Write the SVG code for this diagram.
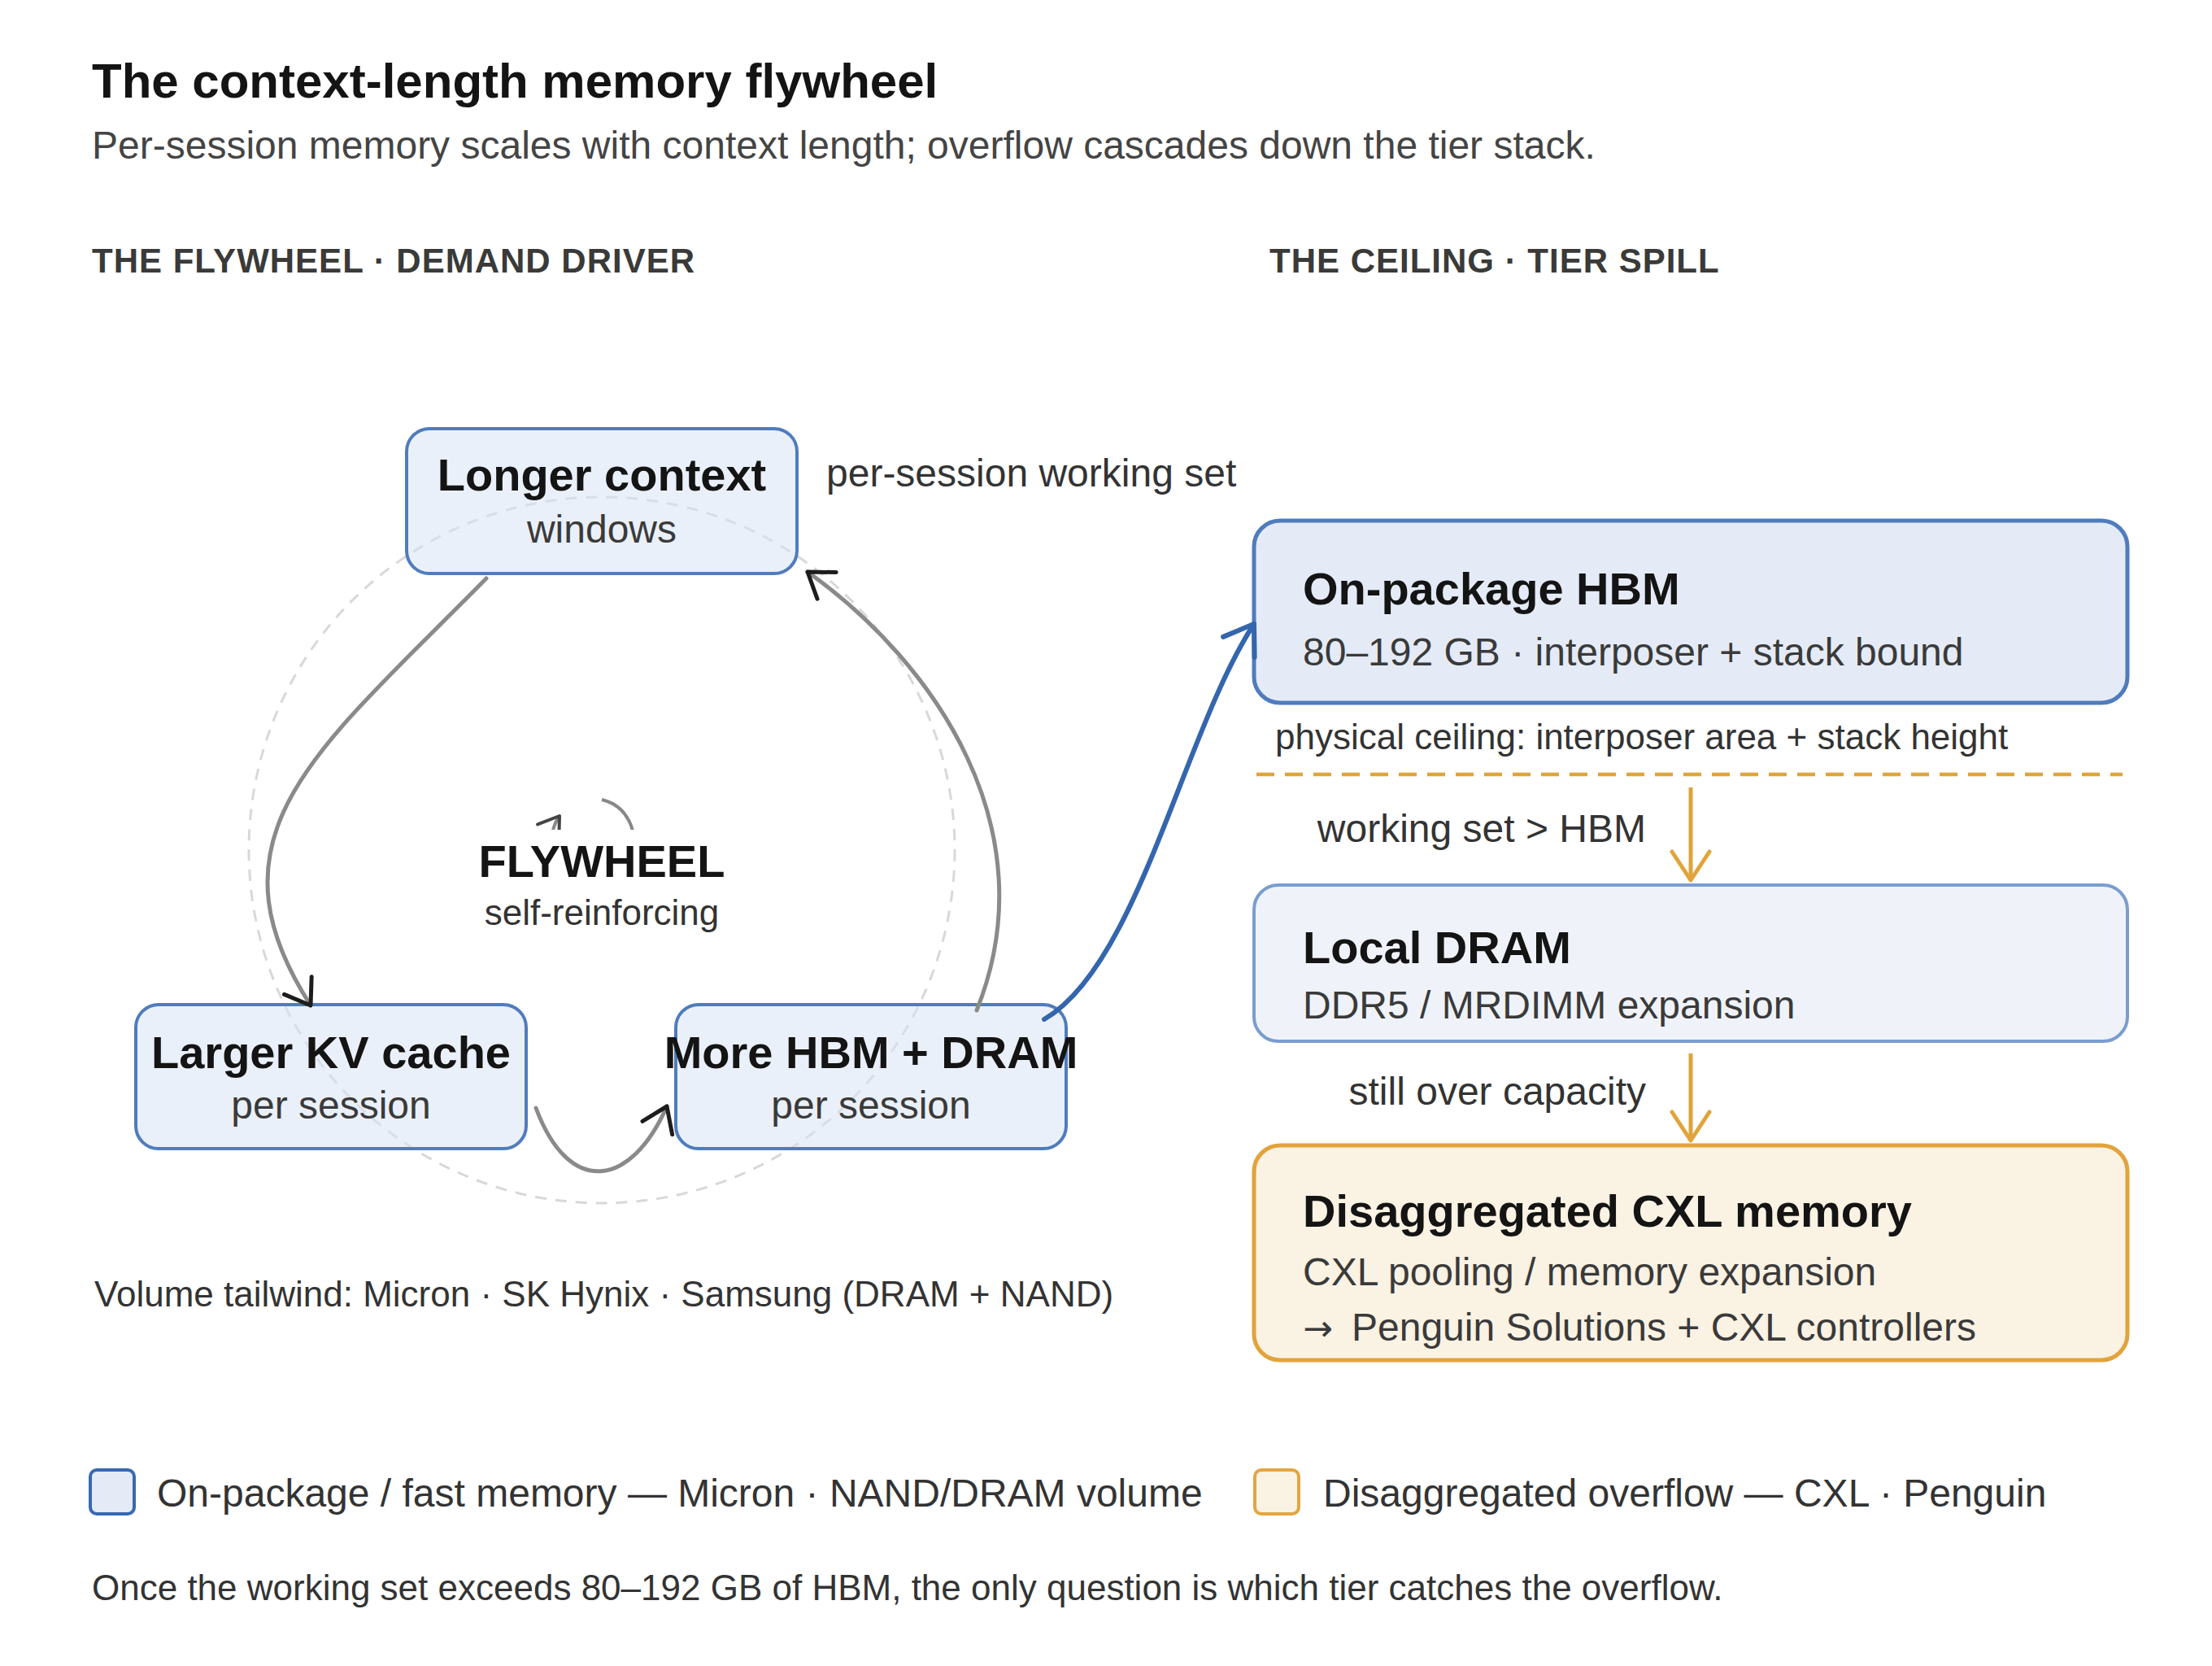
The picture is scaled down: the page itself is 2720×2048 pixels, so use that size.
<svg xmlns="http://www.w3.org/2000/svg" width="2720" height="2048" viewBox="0 0 2720 2048">
<style>
text{font-family:"Liberation Sans",Arial,Helvetica,sans-serif}
.t{font-size:60px;font-weight:bold;fill:#141414}
.sub{font-size:48px;fill:#444}
.hdr{font-size:42px;font-weight:bold;fill:#3a3a38;letter-spacing:1px}
.nt{font-size:56px;font-weight:bold;fill:#141414}
.ns{font-size:48px;fill:#3a3a3a}
.lbl{font-size:44px;fill:#333}
.lbl48{font-size:48px;fill:#333}
.fw{fill:#d9e4f4;fill-opacity:0.55;stroke:#4f7cbd;stroke-width:4}
.gray{fill:none;stroke:#8a8a8a;stroke-width:5;stroke-linecap:round}
.org{fill:none;stroke:#e0a43a;stroke-width:5}
</style>
<defs>
<marker id="ahk" viewBox="-34 -26 40 52" markerWidth="40" markerHeight="52" refX="0" refY="0" orient="auto" markerUnits="userSpaceOnUse"><path d="M -29 -20 L 0 0 L -29 20" fill="none" stroke="#1d1d1d" stroke-width="5" stroke-linecap="round" stroke-linejoin="round"/></marker>
<marker id="ahs" viewBox="-30 -22 36 44" markerWidth="36" markerHeight="44" refX="0" refY="0" orient="auto" markerUnits="userSpaceOnUse"><path d="M -24 -16 L 0 0 L -24 16" fill="none" stroke="#444" stroke-width="4" stroke-linecap="round" stroke-linejoin="round"/></marker>
<marker id="ahb" viewBox="-40 -30 46 60" markerWidth="46" markerHeight="60" refX="0" refY="0" orient="auto" markerUnits="userSpaceOnUse"><path d="M -34 -23 L 0 0 L -34 23" fill="none" stroke="#3466ae" stroke-width="6" stroke-linecap="round" stroke-linejoin="round"/></marker>
<marker id="aho" viewBox="-40 -30 46 60" markerWidth="46" markerHeight="60" refX="0" refY="0" orient="auto" markerUnits="userSpaceOnUse"><path d="M -35 -23 L 0 0 L -35 23" fill="none" stroke="#e0a43a" stroke-width="5" stroke-linecap="round" stroke-linejoin="round"/></marker>
</defs>
<rect width="2720" height="2048" fill="#fff"/>

<g id="header">
<text class="t" x="113" y="120">The context-length memory flywheel</text>
<text class="sub" x="113" y="195">Per-session memory scales with context length; overflow cascades down the tier stack.</text>
<text class="hdr" x="113" y="335">THE FLYWHEEL · DEMAND DRIVER</text>
<text class="hdr" x="1561" y="335">THE CEILING · TIER SPILL</text>
</g>

<circle id="orbit" cx="740" cy="1045" r="434" fill="none" stroke="#d8d8d8" stroke-width="3" stroke-dasharray="14 11"/>

<g id="hub">
<path d="M 740 983 A 50 50 0 1 1 688 1003" fill="none" stroke="#888" stroke-width="4" marker-end="url(#ahs)"/>
<rect x="590" y="1020" width="300" height="130" fill="#fff"/>
<text x="740" y="1078" text-anchor="middle" style="font-size:56px;font-weight:bold;fill:#141414">FLYWHEEL</text>
<text x="740" y="1137" text-anchor="middle" style="font-size:44px;fill:#333">self-reinforcing</text>
</g>

<g id="node-longer-context">
<rect class="fw" x="500" y="527" width="480" height="178" rx="28"/>
<text class="nt" x="740" y="603" text-anchor="middle">Longer context</text>
<text class="ns" x="740" y="667" text-anchor="middle">windows</text>
</g>
<text class="lbl48" x="1016" y="598">per-session working set</text>

<g id="node-kv-cache">
<rect class="fw" x="167" y="1235" width="480" height="177" rx="28"/>
<text class="nt" x="407" y="1313" text-anchor="middle">Larger KV cache</text>
<text class="ns" x="407" y="1375" text-anchor="middle">per session</text>
</g>

<g id="node-more-hbm">
<rect class="fw" x="831" y="1235" width="480" height="177" rx="28"/>
<text class="nt" x="1071" y="1313" text-anchor="middle">More HBM + DRAM</text>
<text class="ns" x="1071" y="1375" text-anchor="middle">per session</text>
</g>

<g id="node-hbm">
<rect x="1542" y="640" width="1074" height="224" rx="32" fill="#e4ebf6" stroke="#4f7cbd" stroke-width="5"/>
<text class="nt" x="1602" y="743">On-package HBM</text>
<text class="ns" x="1602" y="818">80–192 GB · interposer + stack bound</text>
</g>

<g id="ceiling">
<text class="lbl" x="1568" y="921">physical ceiling: interposer area + stack height</text>
<line x1="1545" y1="952" x2="2610" y2="952" stroke="#e0a43a" stroke-width="4.5" stroke-dasharray="22 13"/>
</g>

<g id="node-local-dram">
<rect x="1542" y="1088" width="1074" height="192" rx="30" fill="#eff3f9" stroke="#7a9dd0" stroke-width="4"/>
<text class="nt" x="1602" y="1184">Local DRAM</text>
<text class="ns" x="1602" y="1252">DDR5 / MRDIMM expansion</text>
</g>

<g id="node-cxl">
<rect x="1542" y="1408" width="1074" height="264" rx="32" fill="#faf2e3" stroke="#e2a33b" stroke-width="5"/>
<text class="nt" x="1602" y="1508">Disaggregated CXL memory</text>
<text class="ns" x="1602" y="1580">CXL pooling / memory expansion</text>
<text class="ns" x="1602" y="1648"><tspan style="font-family:'DejaVu Sans',sans-serif;font-size:44px">→</tspan><tspan x="1662">Penguin Solutions + CXL controllers</tspan></text>
</g>

<g id="connectors">
<path class="gray" d="M 598 711 C 388 924, 247 1026, 382 1236" marker-end="url(#ahk)"/>
<path class="gray" d="M 659 1362 C 700 1472, 776 1460, 820 1360" marker-end="url(#ahk)"/>
<path class="gray" d="M 1201 1242 C 1290 1020, 1150 815, 993 703" marker-end="url(#ahk)"/>
<path d="M 1284 1253 C 1400 1186, 1455 900, 1542 767" fill="none" stroke="#3466ae" stroke-width="6" stroke-linecap="round" marker-end="url(#ahb)"/>
<line class="org" x1="2079" y1="968" x2="2079" y2="1082" marker-end="url(#aho)"/>
<line class="org" x1="2079" y1="1295" x2="2079" y2="1402" marker-end="url(#aho)"/>
</g>
<text class="lbl48" x="2024" y="1035" text-anchor="end">working set &gt; HBM</text>
<text class="lbl48" x="2024" y="1358" text-anchor="end">still over capacity</text>

<text class="lbl" x="116" y="1606">Volume tailwind: Micron · SK Hynix · Samsung (DRAM + NAND)</text>

<g id="legend">
<rect x="111" y="1807" width="54" height="54" rx="8" fill="#e4ebf6" stroke="#3869b3" stroke-width="4"/>
<text class="lbl48" x="193" y="1852">On-package / fast memory — Micron · NAND/DRAM volume</text>
<rect x="1543" y="1807" width="54" height="54" rx="8" fill="#faf2e3" stroke="#e3a640" stroke-width="4"/>
<text class="lbl48" x="1627" y="1852">Disaggregated overflow — CXL · Penguin</text>
</g>

<text class="lbl" x="113" y="1967">Once the working set exceeds 80–192 GB of HBM, the only question is which tier catches the overflow.</text>
</svg>
